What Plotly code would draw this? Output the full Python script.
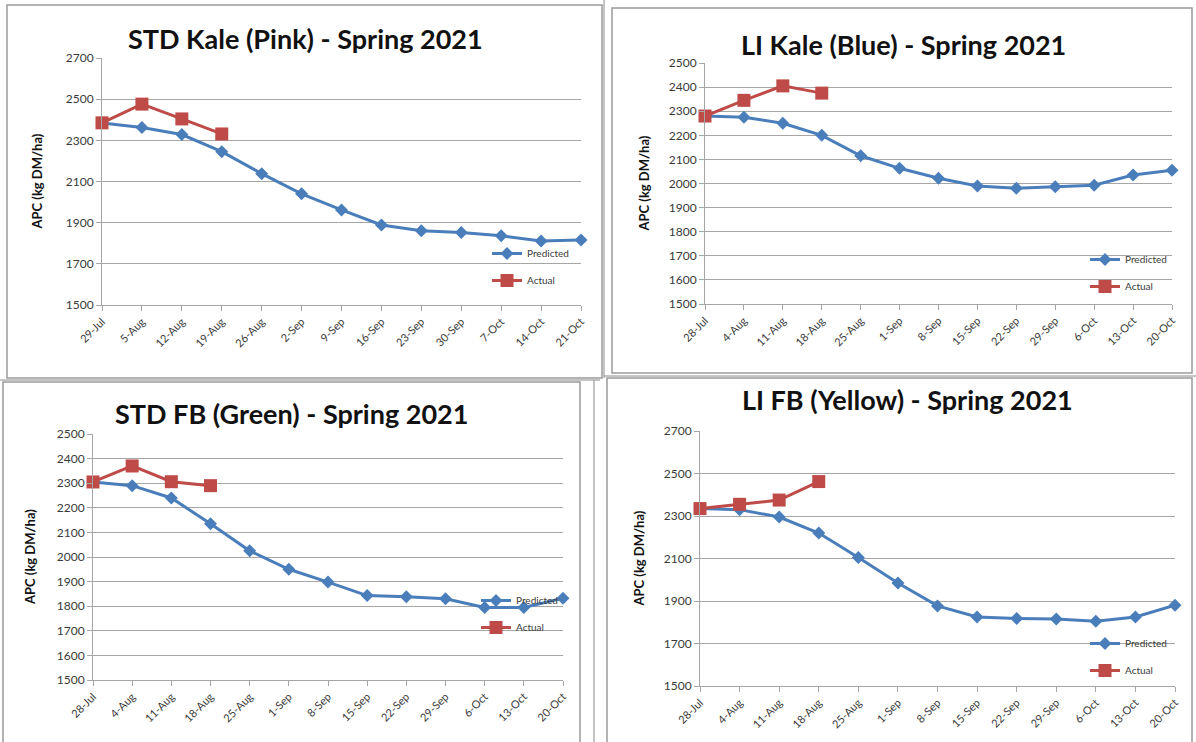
import plotly.graph_objects as go

W, H = 1196, 742

# ---------------- data ----------------
dates_std_kale = ["29-Jul", "5-Aug", "12-Aug", "19-Aug", "26-Aug", "2-Sep", "9-Sep",
                  "16-Sep", "23-Sep", "30-Sep", "7-Oct", "14-Oct", "21-Oct"]
dates_other = ["28-Jul", "4-Aug", "11-Aug", "18-Aug", "25-Aug", "1-Sep", "8-Sep",
               "15-Sep", "22-Sep", "29-Sep", "6-Oct", "13-Oct", "20-Oct"]

std_kale_predicted = [2384, 2362, 2328, 2245, 2138, 2040, 1962, 1889, 1861, 1852, 1836, 1811, 1816]
std_kale_actual = [2385, 2476, 2404, 2331]

li_kale_predicted = [2280, 2275, 2250, 2200, 2115, 2063, 2022, 1990, 1980, 1986, 1993, 2035, 2055]
li_kale_actual = [2280, 2345, 2405, 2375]

std_fb_predicted = [2305, 2290, 2240, 2135, 2025, 1950, 1898, 1843, 1838, 1830, 1795, 1795, 1832]
std_fb_actual = [2305, 2370, 2306, 2290]

li_fb_predicted = [2335, 2330, 2295, 2220, 2105, 1985, 1877, 1825, 1818, 1815, 1805, 1825, 1880]
li_fb_actual = [2335, 2355, 2375, 2462]

titles = ["STD Kale (Pink) - Spring 2021", "LI Kale (Blue) - Spring 2021",
          "STD FB (Green) - Spring 2021", "LI FB (Yellow) - Spring 2021"]
y_ranges = [(1500, 2700, 200), (1500, 2500, 100), (1500, 2500, 100), (1500, 2700, 200)]
y_title = "APC (kg DM/ha)"
series_names = ["Predicted", "Actual"]

# ---------------- layout config (pixels) ----------------
panels = [
    dict(cats=dates_std_kale, pred=std_kale_predicted, act=std_kale_actual,
         plot=(102, 581, 58, 305), frame=(7, 5, 602, 378), title_xy=(305, 38),
         ytitle_x=36, legend_xy=(487, 239)),
    dict(cats=dates_other, pred=li_kale_predicted, act=li_kale_actual,
         plot=(705, 1172, 63, 304), frame=(612, 8, 1192, 373), title_xy=(903, 44),
         ytitle_x=643, legend_xy=(1085, 245)),
    dict(cats=dates_other, pred=std_fb_predicted, act=std_fb_actual,
         plot=(93, 563, 434, 680), frame=(3, 382, 580, 745), title_xy=(291, 414),
         ytitle_x=30, legend_xy=(476, 586)),
    dict(cats=dates_other, pred=li_fb_predicted, act=li_fb_actual,
         plot=(700, 1175, 431, 686), frame=(607, 378, 1192, 745), title_xy=(907, 399),
         ytitle_x=638, legend_xy=(1085, 629)),
]

BLUE = "#4A7EBB"
RED = "#BE4B48"
GRID = "#A6A6A6"
TXT = "#3A3A3A"
FONT = "Lato"


def fx(px):
    return px / W


def fy(py):
    return 1 - py / H


fig = go.Figure()
layout = dict(width=W, height=H, margin=dict(l=0, r=0, t=0, b=0, autoexpand=False),
              paper_bgcolor="white", plot_bgcolor="white",
              font=dict(family=FONT, color=TXT), shapes=[], annotations=[])

for i, p in enumerate(panels):
    s = "" if i == 0 else str(i + 1)
    lg = "legend" + s
    x0, x1, y0, y1 = p["plot"]
    ymin, ymax, dt = y_ranges[i]

    fig.add_trace(go.Scatter(
        x=p["cats"], y=p["pred"], mode="lines+markers", name=series_names[0],
        line=dict(color=BLUE, width=3), marker=dict(symbol="diamond", size=10, color=BLUE),
        xaxis="x" + s, yaxis="y" + s, legend=lg, legendgroup=f"p{i}", cliponaxis=False))
    fig.add_trace(go.Scatter(
        x=p["cats"][:len(p["act"])], y=p["act"], mode="lines+markers", name=series_names[1],
        line=dict(color=RED, width=3), marker=dict(symbol="square", size=13, color=RED),
        xaxis="x" + s, yaxis="y" + s, legend=lg, legendgroup=f"a{i}", cliponaxis=False))

    layout["xaxis" + s] = dict(
        domain=[fx(x0), fx(x1)], anchor="y" + s, type="category", automargin=False,
        categoryorder="array", categoryarray=p["cats"], range=[0, 12],
        showgrid=False, showline=True, linecolor=GRID, linewidth=1,
        ticks="outside", ticklen=5, tickcolor=GRID, tickangle=-45,
        tickfont=dict(family=FONT, size=11, color=TXT), fixedrange=True)
    layout["yaxis" + s] = dict(
        domain=[fy(y1), fy(y0)], anchor="x" + s, range=[ymin, ymax], dtick=dt,
        tick0=ymin, showgrid=True, gridcolor=GRID, gridwidth=1, automargin=False,
        showline=True, linecolor=GRID, linewidth=1, zeroline=False,
        ticks="outside", ticklen=5, tickcolor=GRID,
        tickfont=dict(family=FONT, size=12, color=TXT), fixedrange=True)
    lx, ly = p["legend_xy"]
    layout[lg] = dict(x=fx(lx), y=fy(ly), xanchor="left", yanchor="top",
                      bgcolor="rgba(0,0,0,0)", traceorder="grouped", tracegroupgap=8,
                      font=dict(family=FONT, size=10, color=TXT), itemwidth=30)

    tx, ty = p["title_xy"]
    layout["annotations"].append(dict(
        text=f"<b>{titles[i]}</b>", x=fx(tx), y=fy(ty), xref="paper", yref="paper",
        showarrow=False, xanchor="center", yanchor="middle",
        font=dict(family=FONT, size=27, color="#111111")))
    layout["annotations"].append(dict(
        text=f"<b>{y_title}</b>", x=fx(p["ytitle_x"]), y=fy((y0 + y1) / 2),
        xref="paper", yref="paper", showarrow=False, textangle=-90,
        xanchor="center", yanchor="middle",
        font=dict(family=FONT, size=13, color="#111111")))

    fx0, fy0, fx1, fy1 = p["frame"]
    layout["shapes"].append(dict(
        type="rect", xref="paper", yref="paper", x0=fx(fx0), x1=fx(fx1),
        y0=fy(fy1), y1=fy(fy0), line=dict(color="#9A9A9A", width=1.5)))

# outer separators of the composite screenshot
for (a, b, c, d) in [(604, 0, 604, 378), (604, 376, 1196, 376), (0, 380, 600, 380),
                     (594, 380, 594, 742)]:
    layout["shapes"].append(dict(type="line", xref="paper", yref="paper",
                                 x0=fx(a), y0=fy(b), x1=fx(c), y1=fy(d),
                                 line=dict(color="#8A8A8A", width=1)))

fig.update_layout(**layout)
fig.write_html("out.html", config={"displayModeBar": False},
               post_script="document.body.style.margin='0px';")
